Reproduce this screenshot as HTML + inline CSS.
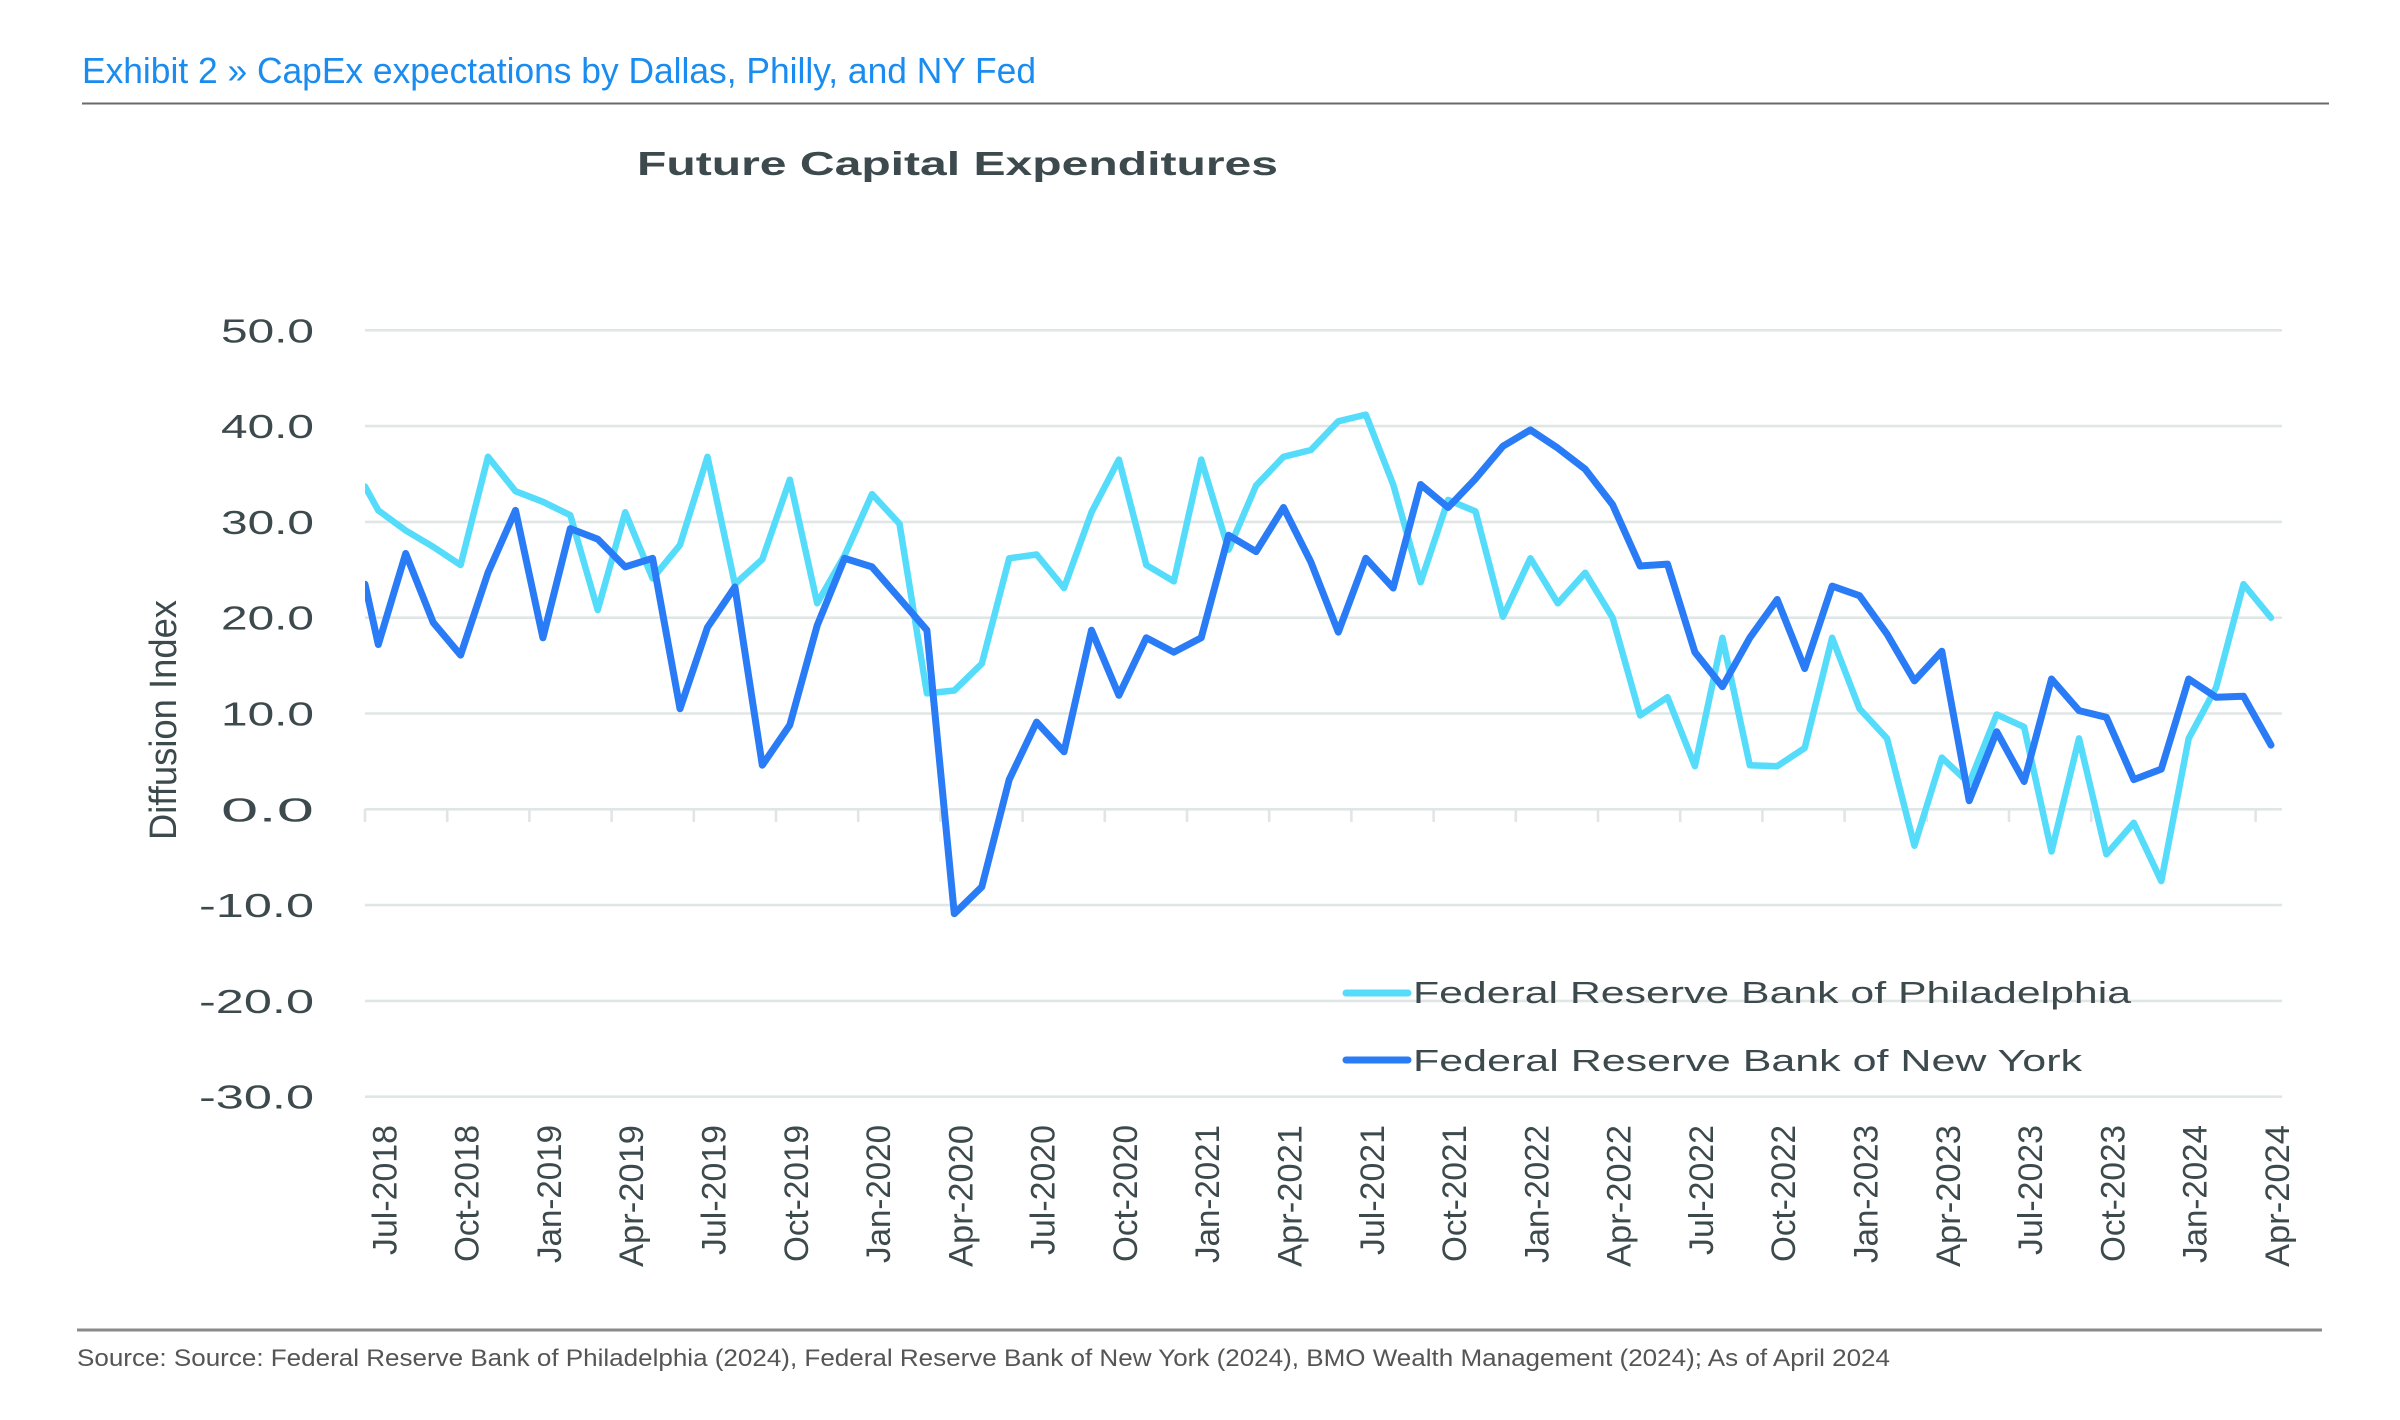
<!DOCTYPE html>
<html><head><meta charset="utf-8"><style>
html,body{margin:0;padding:0;background:#fff;}
svg{display:block;}
text{font-family:"Liberation Sans",sans-serif;}
</style></head><body>
<svg id="c" width="2400" height="1420" viewBox="0 0 2400 1420" xmlns="http://www.w3.org/2000/svg">
<text x="82" y="83" font-size="36" fill="#1a8cf0" textLength="954" lengthAdjust="spacingAndGlyphs">Exhibit 2 » CapEx expectations by Dallas, Philly, and NY Fed</text>
<line x1="82" y1="103.5" x2="2329" y2="103.5" stroke="#6a6a6a" stroke-width="2"/>
<text x="637" y="175" font-size="33" font-weight="bold" fill="#3d4a4d" textLength="641" lengthAdjust="spacingAndGlyphs">Future Capital Expenditures</text>
<g id="grid"></g>
<g id="ylab" font-size="33" fill="#3d4a4d"></g>
<text transform="translate(176,720) rotate(-90)" text-anchor="middle" font-size="38" fill="#3d4a4d" textLength="240" lengthAdjust="spacingAndGlyphs">Diffusion Index</text>
<defs><clipPath id="pc"><rect x="365" y="200" width="1920" height="1000"/></clipPath></defs>
<g clip-path="url(#pc)">
<polyline id="light" fill="none" stroke="#55dcfb" stroke-width="6.5" stroke-linejoin="round" stroke-linecap="round"/>
<polyline id="dark" fill="none" stroke="#2a7bf6" stroke-width="7" stroke-linejoin="round" stroke-linecap="round"/>
</g>
<g id="xlab" font-size="34" fill="#3d4a4d"></g>
<line x1="1346" y1="993" x2="1408" y2="993" stroke="#55dcfb" stroke-width="7" stroke-linecap="round"/>
<text x="1413" y="1003" font-size="31" fill="#3d4a4d" textLength="718" lengthAdjust="spacingAndGlyphs">Federal Reserve Bank of Philadelphia</text>
<line x1="1346" y1="1060" x2="1408" y2="1060" stroke="#2a7bf6" stroke-width="7" stroke-linecap="round"/>
<text x="1413" y="1071" font-size="31" fill="#3d4a4d" textLength="669" lengthAdjust="spacingAndGlyphs">Federal Reserve Bank of New York</text>
<line x1="77" y1="1330" x2="2322" y2="1330" stroke="#8a8a8a" stroke-width="3"/>
<text x="77" y="1366" font-size="24" fill="#555" textLength="1813" lengthAdjust="spacingAndGlyphs">Source: Source: Federal Reserve Bank of Philadelphia (2024), Federal Reserve Bank of New York (2024), BMO Wealth Management (2024); As of April 2024</text>
</svg>
<script>
var NS="http://www.w3.org/2000/svg";
function Y(v){return 809.3-9.58*v;}
function X(k){return 378.3+27.43*k;}
function el(t,a,p,txt){var e=document.createElementNS(NS,t);for(var k in a)e.setAttribute(k,a[k]);if(txt)e.textContent=txt;p.appendChild(e);return e;}
var grid=document.getElementById('grid'),yl=document.getElementById('ylab'),xl=document.getElementById('xlab');
for(var v=50;v>=-30;v-=10){
 el('line',{x1:365,x2:2282,y1:Y(v),y2:Y(v),stroke:'#e0e6e6','stroke-width':2.6},grid);
 var s=v.toFixed(1);
 el('text',{x:314,y:Y(v)+12,'text-anchor':'end',textLength:(v<0?115:93),lengthAdjust:'spacingAndGlyphs'},yl,s);
}
for(var t=0;t<=23;t++){var x=365+82.2*t;el('line',{x1:x,x2:x,y1:809,y2:822,stroke:'#e0e6e6','stroke-width':2.6},grid);}
var mon=['Jul','Oct','Jan','Apr'],len={Jul:130,Oct:137,Jan:138,Apr:142};
for(var q=0;q<24;q++){
 var m=mon[q%4];var yr=2018+Math.floor((q+2)/4);
 var x=X(q*3)+7+11;
 el('text',{transform:'translate('+x+',1125) rotate(-90)','text-anchor':'end',textLength:len[m],lengthAdjust:'spacingAndGlyphs'},xl,m+'-'+yr);
}
var L=[31.2,29.1,27.4,25.5,36.8,33.2,32.1,30.7,20.8,31.0,24.1,27.6,36.8,23.5,26.1,34.4,21.5,26.5,32.9,29.8,12.1,12.4,15.2,26.2,26.6,23.1,31.0,36.5,25.5,23.8,36.5,27.1,33.8,36.8,37.5,40.5,41.2,33.9,23.7,32.3,31.1,20.1,26.2,21.5,24.7,20.0,9.8,11.7,4.5,17.9,4.6,4.5,6.4,17.9,10.5,7.4,-3.8,5.4,2.7,9.9,8.6,-4.4,7.4,-4.7,-1.4,-7.5,7.4,12.7,23.5,20.0];
var D=[17.2,26.7,19.5,16.1,24.7,31.2,17.9,29.3,28.2,25.3,26.2,10.5,19.0,23.2,4.6,8.8,19.2,26.2,25.3,22.0,18.7,-10.9,-8.1,3.1,9.1,6.0,18.7,11.9,17.9,16.4,17.9,28.6,26.9,31.5,25.8,18.5,26.2,23.1,33.9,31.5,34.5,37.9,39.6,37.7,35.5,31.8,25.4,25.6,16.4,12.8,17.9,21.9,14.7,23.3,22.3,18.3,13.4,16.5,0.9,8.1,2.9,13.6,10.3,9.6,3.1,4.2,13.6,11.7,11.8,6.7];
function pts(a,start){var p=[[365,Y(start)]];for(var i=0;i<a.length;i++)p.push([X(i),Y(a[i])]);return p.map(function(q){return q[0].toFixed(1)+','+q[1].toFixed(1);}).join(' ');}
document.getElementById('light').setAttribute('points',pts(L,33.7));
document.getElementById('dark').setAttribute('points',pts(D,23.5));
</script>
</body></html>
